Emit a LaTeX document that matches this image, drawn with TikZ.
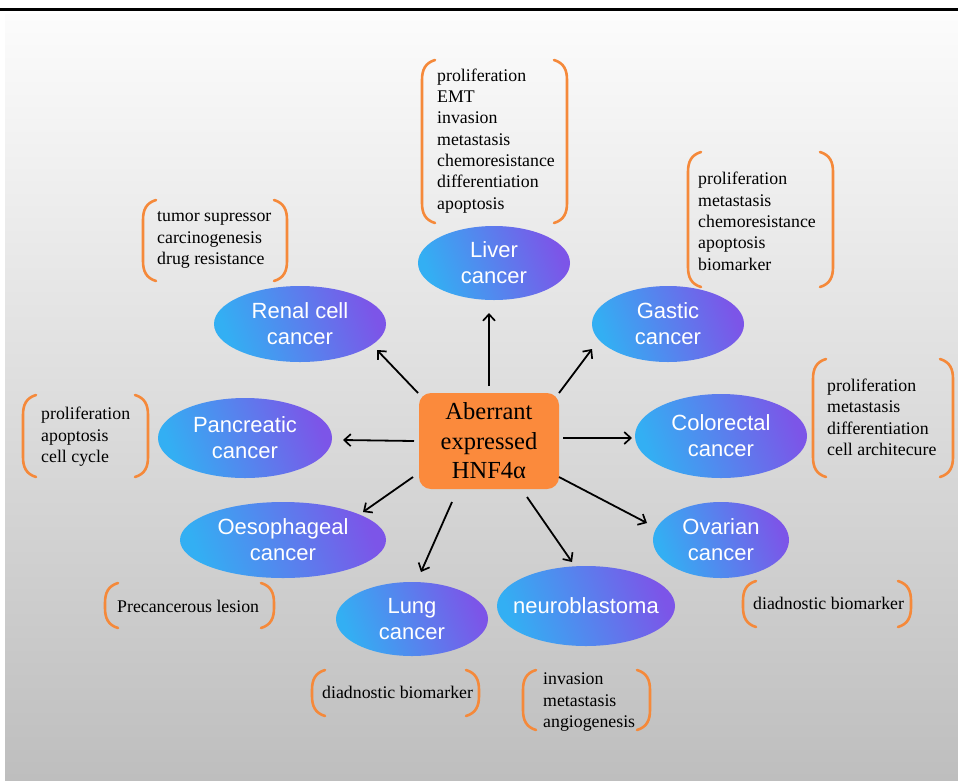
\documentclass[tikz,border=0pt]{standalone}
\usepackage{fontspec}
\setmainfont{Liberation Serif}
\newfontfamily\arialf{Liberation Sans}
\usetikzlibrary{arrows.meta,shapes.geometric}
\definecolor{brkor}{HTML}{F5893A}
\definecolor{boxor}{HTML}{FB8A3C}
\definecolor{ellL}{HTML}{33AFF3}
\definecolor{ellR}{HTML}{7C55E8}
\definecolor{bgtop}{HTML}{FCFCFC}
\definecolor{bgbot}{HTML}{BEBEBE}
\newcommand\mybrk[4]{%
  \draw[brk] (#1+13,#2) .. controls (#1+3,#2+3) and (#1,#2+10) .. (#1,#2+20)
     -- (#1,#4-20) .. controls (#1,#4-10) and (#1+3,#4-3) .. (#1+13,#4);
  \draw[brk] (#3-13,#2) .. controls (#3-3,#2+3) and (#3,#2+10) .. (#3,#2+20)
     -- (#3,#4-20) .. controls (#3,#4-10) and (#3-3,#4-3) .. (#3-13,#4);
}
\begin{document}
\begin{tikzpicture}[x=1pt,y=-1pt,
  canc/.style={ellipse, inner sep=0pt, left color=ellL, right color=ellR,
    shading angle=110, text=white, align=center,
    font=\arialf\fontsize{22}{26}\selectfont},
  lst/.style={anchor=base west, align=left, inner sep=0pt, text=black,
    font=\fontsize{17.8}{21.3}\selectfont},
  brk/.style={draw=brkor, line width=2.6pt, line cap=round},
  arr/.style={line width=1.8pt, -{Straight Barb[length=6.5pt,width=12pt,line width=1.7pt]}},
  hub/.style={rectangle, rounded corners=12pt, fill=boxor, inner sep=0pt,
    minimum width=140pt, minimum height=96pt, align=center,
    font=\fontsize{24.5}{29.5}\selectfont}
]
\useasboundingbox (0,0) rectangle (958,780);
\fill[white] (0,0) rectangle (958,780);
\fill[top color=bgtop, bottom color=bgbot] (5,14) rectangle (958,780);
\draw[line width=3pt, black] (0,9) -- (958,9);

% hub
\node[hub] (hub) at (489,441) {Aberrant\\expressed\\HNF4α};

% cancers
\node[canc, minimum width=152pt, minimum height=74pt] (liver) at (494,263) {Liver\\cancer};
\node[canc, minimum width=172pt, minimum height=76pt] (renal) at (300,324) {Renal cell\\cancer};
\node[canc, minimum width=152pt, minimum height=76pt] (gastic) at (668,324) {Gastic\\cancer};
\node[canc, minimum width=174pt, minimum height=80pt] (pancreatic) at (245,438) {Pancreatic\\cancer};
\node[canc, minimum width=172pt, minimum height=84pt] (colorectal) at (721,436) {Colorectal\\cancer};
\node[canc, minimum width=206pt, minimum height=76pt, inner xsep=-10pt] (oeso) at (283,540) {Oesophageal\\cancer};
\node[canc, minimum width=136pt, minimum height=76pt] (ovarian) at (721,540) {Ovarian\\cancer};
\node[canc, minimum width=152pt, minimum height=74pt] (lung) at (412,619) {Lung\\cancer};
\node[canc, minimum width=178pt, minimum height=80pt, inner xsep=-20pt, inner ysep=-4pt] (neuro) at (586,606) {neuroblastoma};

% arrow end points
\coordinate (sL) at (489,386); \coordinate (eL) at (489,313);
\coordinate (sR) at (418,393); \coordinate (eR) at (377,350);
\coordinate (sG) at (559,393); \coordinate (eG) at (592,349);
\coordinate (sP) at (414,441); \coordinate (eP) at (343,440);
\coordinate (sC) at (563,438); \coordinate (eC) at (632,438);
\coordinate (sO) at (413,477); \coordinate (eO) at (363,512);
\coordinate (sLu) at (452,502); \coordinate (eLu) at (421,572);
\coordinate (sN) at (527,497); \coordinate (eN) at (572,562);
\coordinate (sOv) at (559,477); \coordinate (eOv) at (647,523);
\draw[arr] (sL) -- (eL);
\draw[arr] (sR) -- (eR);
\draw[arr] (sG) -- (eG);
\draw[arr] (sP) -- (eP);
\draw[arr] (sC) -- (eC);
\draw[arr] (sO) -- (eO);
\draw[arr] (sLu) -- (eLu);
\draw[arr] (sN) -- (eN);
\draw[arr] (sOv) -- (eOv);

% lists (anchor = baseline of the last line)
\node[lst] (tliver) at (437,209) {proliferation\\EMT\\invasion\\metastasis\\chemoresistance\\differentiation\\apoptosis};
\mybrk{422}{60}{567}{223}
\node[lst] (trenal) at (157,264.5) {tumor supressor\\carcinogenesis\\drug resistance};
\mybrk{143}{200}{287}{281}
\node[lst] (tgastic) at (698,270) {proliferation\\metastasis\\chemoresistance\\apoptosis\\biomarker};
\mybrk{688}{152}{833}{287}
\node[lst] (tcolo) at (827,455.5) {proliferation\\metastasis\\differentiation\\cell architecure};
\mybrk{813}{359}{953}{477}
\node[lst] (tpanc) at (41,462.5) {proliferation\\apoptosis\\cell cycle};
\mybrk{23}{395}{148}{477}
\node[lst] (toeso) at (117,612) {Precancerous lesion};
\mybrk{105}{583}{274}{628}
\node[lst] (tlung) at (322,698) {diadnostic biomarker};
\mybrk{312}{670}{479}{716}
\node[lst] (tovar) at (753,609) {diadnostic biomarker};
\mybrk{743}{581}{911}{627}
\node[lst] (tneuro) at (543,727.5) {invasion\\metastasis\\angiogenesis};
\mybrk{523}{670}{650}{730}
\end{tikzpicture}
\end{document}
